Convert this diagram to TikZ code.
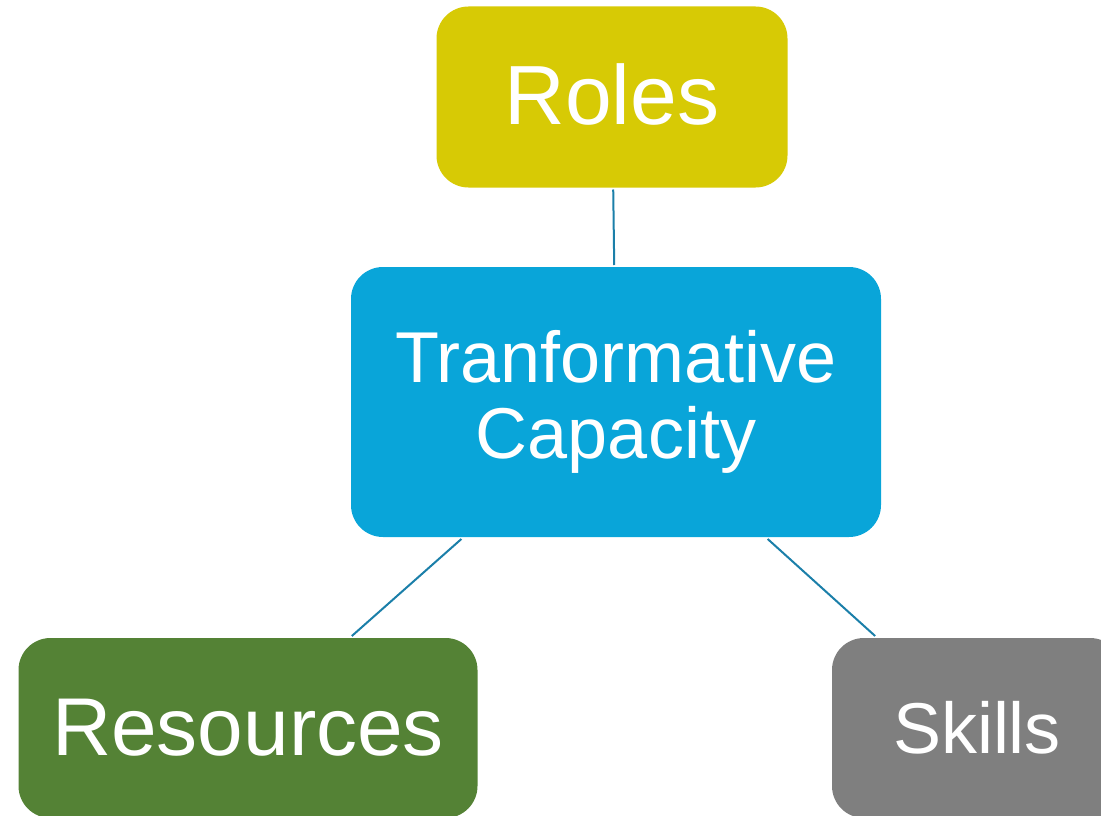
\documentclass[tikz,border=0pt]{standalone}
\usepackage{fontspec}
\setmainfont{Liberation Sans}
\usepackage{xcolor}
\usepackage{tikz}
\definecolor{rolecolor}{HTML}{D7CA05}
\definecolor{capcolor}{HTML}{09A5D9}
\definecolor{rescolor}{HTML}{548235}
\definecolor{skillcolor}{HTML}{7F7F7F}
\definecolor{linkcolor}{HTML}{1B7FA9}
\tikzstyle{topic}=[rectangle,rounded corners=32pt,text=white,align=center,inner sep=0pt,outer sep=2pt]
\tikzstyle{link}=[line width=2pt,draw=linkcolor]
\begin{document}
\begin{tikzpicture}[x=1pt,y=-1pt]
	\useasboundingbox (0,0) rectangle (1101,816);
	\clip (0,0) rectangle (1101,816);
	\node[topic,fill=rolecolor,minimum width=351pt,minimum height=181pt,font=\fontsize{84}{90}\selectfont] (roles) at (612,97) {\raisebox{6pt}{Roles}};
	\node[topic,fill=capcolor,minimum width=530pt,minimum height=270pt,font=\fontsize{72}{76}\selectfont] (cap) at (616,402) {Tranformative\\Capacity};
	\node[topic,fill=rescolor,minimum width=459pt,minimum height=180pt,font=\fontsize{82}{90}\selectfont] (res) at (248,728) {Resources};
	\node[topic,fill=skillcolor,minimum width=290pt,minimum height=180pt,font=\fontsize{72}{80}\selectfont] (skills) at (977,728) {Skills};
	\draw[link] (roles) -- (cap);
	\draw[link] (cap) -- (res);
	\draw[link] (cap) -- (skills);
\end{tikzpicture}
\end{document}
